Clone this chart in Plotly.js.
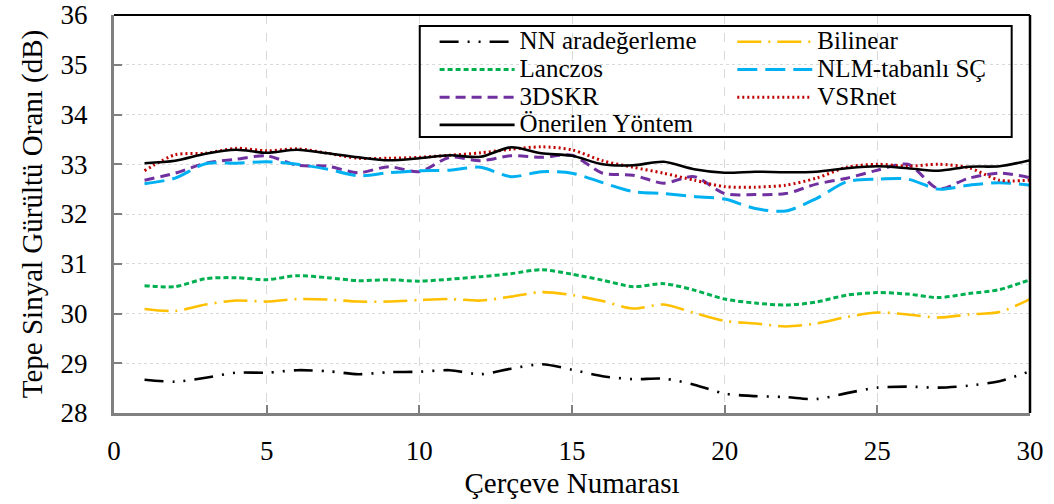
<!DOCTYPE html>
<html>
<head>
<meta charset="utf-8">
<script src="https://cdn.plot.ly/plotly-3.0.1.min.js"></script>
<style>html,body{margin:0;padding:0;background:#fff;}</style>
</head>
<body>
<div id="chart" style="width:1054px;height:504px;"></div>
<script>
const frames = [1,2,3,4,5,6,7,8,9,10,11,12,13,14,15,16,17,18,19,20,21,22,23,24,25,26,27,28,29,30];

const seriesNames = ["NN aradeğerleme","Bilinear","Lanczos","NLM-tabanlı SÇ","3DSKR","VSRnet","Önerilen Yöntem"];

const nnValues = [28.67,28.63,28.71,28.81,28.81,28.86,28.84,28.78,28.82,28.83,28.86,28.78,28.89,28.98,28.87,28.74,28.68,28.69,28.57,28.39,28.34,28.32,28.28,28.40,28.51,28.53,28.51,28.55,28.64,28.84];
const bilinearValues = [30.09,30.05,30.18,30.26,30.24,30.29,30.28,30.24,30.24,30.27,30.29,30.26,30.34,30.43,30.37,30.25,30.10,30.18,30.01,29.85,29.80,29.74,29.80,29.93,30.02,29.98,29.92,29.98,30.03,30.29];
const lanczosValues = [30.56,30.54,30.70,30.72,30.68,30.76,30.72,30.66,30.68,30.65,30.69,30.74,30.80,30.88,30.79,30.67,30.54,30.60,30.47,30.29,30.21,30.17,30.23,30.37,30.42,30.39,30.32,30.40,30.48,30.68];
const nlmValues = [32.61,32.72,33.01,33.02,33.05,33.00,32.90,32.77,32.83,32.87,32.88,32.94,32.75,32.85,32.82,32.63,32.45,32.41,32.35,32.30,32.11,32.06,32.31,32.65,32.70,32.70,32.50,32.58,32.63,32.58];
const dskrValues = [32.68,32.82,33.02,33.10,33.17,32.98,32.96,32.83,32.95,32.85,33.14,33.07,33.17,33.14,33.18,32.82,32.78,32.62,32.75,32.41,32.39,32.41,32.60,32.72,32.88,33.00,32.51,32.72,32.82,32.73];
const vsrnetValues = [32.87,33.19,33.22,33.32,33.27,33.31,33.22,33.12,33.12,33.14,33.18,33.23,33.30,33.35,33.29,33.07,32.94,32.82,32.68,32.55,32.54,32.58,32.72,32.94,33.00,32.96,33.00,32.93,32.68,32.68];
const proposedValues = [33.02,33.07,33.21,33.29,33.23,33.29,33.22,33.14,33.08,33.12,33.18,33.15,33.34,33.22,33.17,33.00,32.98,33.05,32.90,32.83,32.85,32.84,32.85,32.92,32.96,32.92,32.87,32.95,32.96,33.08];

const xTickVals = [0,5,10,15,20,25,30];
const yTickVals = [28,29,30,31,32,33,34,35,36];

const FONT = "Liberation Serif, Times New Roman, serif";
function label(t){ return '<span style="font-size:25px">' + t + '</span>'; }

function mk(name, y, color, dash, width, legendId){
  return {
    x: frames, y: y, type: 'scatter', mode: 'lines',
    name: label(name),
    line: {color: color, dash: dash, width: width, shape: 'spline', smoothing: 0.8},
    legend: legendId,
    hoverinfo: 'x+y'
  };
}

const data = [
  mk(seriesNames[0], nnValues, '#000000', '19px,9px,2px,9px,2px,9px', 2.6, 'legend'),
  mk(seriesNames[2], lanczosValues, '#00B050', '5px,3px', 3, 'legend'),
  mk(seriesNames[4], dskrValues, '#7030A0', '10px,6px', 3, 'legend'),
  mk(seriesNames[1], bilinearValues, '#FFC000', '24px,7px,2px,7px', 2.6, 'legend2'),
  mk(seriesNames[3], nlmValues, '#00B0F0', '20px,8px', 3, 'legend2'),
  mk(seriesNames[5], vsrnetValues, '#C00000', '2px,3px', 3, 'legend2'),
  mk(seriesNames[6], proposedValues, '#000000', 'solid', 2.6, 'legend')
];

const legendCommon = {
  xanchor: 'left', yanchor: 'top',
  bgcolor: 'rgba(0,0,0,0)', borderwidth: 0,
  font: {family: FONT, size: 19, color: '#000'},
  itemwidth: 75, tracegroupgap: 0, traceorder: 'normal'
};

const layout = {
  width: 1054, height: 504,
  margin: {l: 114, r: 24, t: 15, b: 91},
  paper_bgcolor: '#fff', plot_bgcolor: '#fff',
  font: {family: FONT, color: '#000'},
  showlegend: true,
  legend: Object.assign({}, legendCommon, {x: 0.35, y: 0.980}),
  legend2: Object.assign({}, legendCommon, {x: 0.675, y: 0.980}),
  xaxis: {
    range: [0, 30], tickvals: xTickVals, ticktext: xTickVals.map(String),
    showline: true, linecolor: '#808080', linewidth: 3,
    ticks: 'inside', ticklen: 8, tickwidth: 2, tickcolor: '#808080',
    showgrid: true, gridcolor: '#d9d9d9', griddash: 'dash', gridwidth: 1,
    zeroline: false, ticklabelstandoff: 12,
    tickfont: {family: FONT, size: 27, color: '#000'},
    title: {text: 'Çerçeve Numarası', font: {family: FONT, size: 29, color: '#000'}, standoff: 8}
  },
  yaxis: {
    range: [28, 36], tickvals: yTickVals, ticktext: yTickVals.map(String),
    showline: true, linecolor: '#808080', linewidth: 3,
    ticks: 'inside', ticklen: 8, tickwidth: 2, tickcolor: '#808080',
    showgrid: true, gridcolor: '#d9d9d9', griddash: 'dot', gridwidth: 1,
    zeroline: false, ticklabelstandoff: 18,
    tickfont: {family: FONT, size: 27, color: '#000'},
    title: {text: 'Tepe Sinyal Gürültü Oranı (dB)', font: {family: FONT, size: 29, color: '#000'}, standoff: 10}
  },
  shapes: [
    {type: 'line', xref: 'paper', yref: 'paper', x0: 0, x1: 1, y0: 1, y1: 1, line: {color: '#000', width: 2}},
    {type: 'line', xref: 'paper', yref: 'paper', x0: 1, x1: 1, y0: 0, y1: 1, line: {color: '#000', width: 2.5}},
    {type: 'rect', xref: 'paper', yref: 'paper', x0: 0.3338, x1: 0.9800, y0: 0.6935, y1: 0.9723, line: {color: '#000', width: 2}, fillcolor: 'rgba(0,0,0,0)'}
  ]
};

Plotly.newPlot('chart', data, layout, {displayModeBar: false, responsive: false});
</script>
</body>
</html>
